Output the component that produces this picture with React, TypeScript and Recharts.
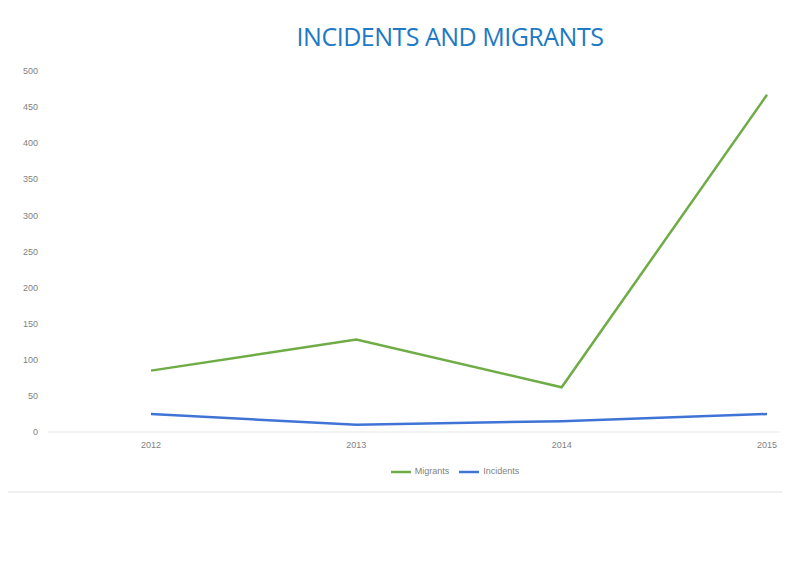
import { LineChart, Line, XAxis, YAxis, Legend } from "recharts";

const years = ["2012", "2013", "2014", "2015"];
const migrants = [85, 128, 62, 467];
const incidents = [25, 10, 15, 25];
const yTicks = [0, 50, 100, 150, 200, 250, 300, 350, 400, 450, 500];

const data = years.map((year, i) => ({
  year,
  Migrants: migrants[i],
  Incidents: incidents[i],
}));

const font = "'Liberation Sans', 'DejaVu Sans', sans-serif";

export default function App() {
  return (
    <div style={{ position: "absolute", left: 0, top: 0, width: 810, height: 575, background: "#fff", fontFamily: font }}>
      <div
        style={{
          position: "absolute",
          top: 19,
          left: 0,
          width: 900,
          textAlign: "center",
          fontSize: 25,
          color: "#2079c4",
          fontFamily: "'Open Sans', sans-serif",
          letterSpacing: -0.5,
        }}
      >
        INCIDENTS AND MIGRANTS
      </div>
      <div style={{ position: "absolute", left: 8, right: 28, top: 491, height: 2, background: "#f0f0f0" }} />
      <LineChart
        width={810}
        height={575}
        data={data}
        margin={{ top: 71, right: 30, bottom: 93, left: 0 }}
      >
        <XAxis
          dataKey="year"
          padding={{ left: 103, right: 13 }}
          axisLine={{ stroke: "#e6e6e6", strokeWidth: 1 }}
          tickLine={false}
          tickSize={0}
          tickMargin={10}
          tick={{ fontSize: 9, fill: "#7f7f7f", fontFamily: font }}
          height={30}
        />
        <YAxis
          width={48}
          domain={[0, 500]}
          ticks={yTicks}
          axisLine={false}
          tickLine={false}
          tickSize={0}
          tickMargin={10}
          tick={{ fontSize: 9, fill: "#7f7f7f", fontFamily: font }}
        />
        <Legend
          verticalAlign="bottom"
          align="center"
          iconType="plainline"
          iconSize={20}
          itemSorter={null}
          formatter={(value) => <span style={{ color: "#7f7f7f" }}>{value}</span>}
          wrapperStyle={{ fontSize: 9, left: 70, paddingTop: 0, lineHeight: "12px" }}
        />
        <Line
          type="linear"
          dataKey="Migrants"
          stroke="#6fac46"
          strokeWidth={2.5}
          dot={false}
          isAnimationActive={false}
        />
        <Line
          type="linear"
          dataKey="Incidents"
          stroke="#3f74d6"
          strokeWidth={2.5}
          dot={false}
          isAnimationActive={false}
        />
      </LineChart>
    </div>
  );
}
